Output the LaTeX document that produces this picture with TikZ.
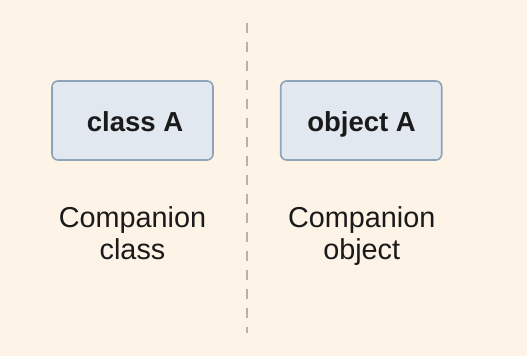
\documentclass[tikz,border=0pt]{standalone}
\usepackage{fontspec}
\setmainfont{Liberation Sans}
\definecolor{bgc}{HTML}{FDF3E6}
\definecolor{boxfill}{HTML}{E1E8F0}
\definecolor{boxdraw}{HTML}{8FA3B8}
\definecolor{dashc}{HTML}{B5B2AD}
\definecolor{txt}{HTML}{1A1A1A}
\begin{document}
\begin{tikzpicture}[x=1pt,y=1pt,
  classbox/.style={draw=boxdraw, fill=boxfill, line width=1.6pt, rounded corners=6pt, minimum width=161pt, minimum height=79pt, inner sep=0pt},
  boxlabel/.style={anchor=base, text=txt, font=\fontsize{27.5}{30}\selectfont\bfseries, inner sep=0pt},
  caption/.style={anchor=base, text=txt, font=\fontsize{28.8}{31}\selectfont, inner sep=0pt},
  divider/.style={draw=dashc, line width=1.8pt, dash pattern=on 10pt off 9pt}]
\fill[bgc] (0,0) rectangle (527,356);
\useasboundingbox (0,0) rectangle (527,356);
\coordinate (top) at (246.7,333.3);
\coordinate (bot) at (246.7,23);
\draw[divider] (top) -- (bot);
\node[classbox] (ca) at (132.5,235.5) {};
\node[classbox] (oa) at (361.2,235.5) {};
\node[boxlabel] (calab) at (135,224.3) {class A};
\node[boxlabel] (oalab) at (361.5,224.3) {object A};
\node[caption] (c1) at (132.5,128.3) {Companion};
\node[caption] (c2) at (132.5,96) {class};
\node[caption] (o1) at (361.7,128.3) {Companion};
\node[caption] (o2) at (361.7,96) {object};
\end{tikzpicture}
\end{document}
